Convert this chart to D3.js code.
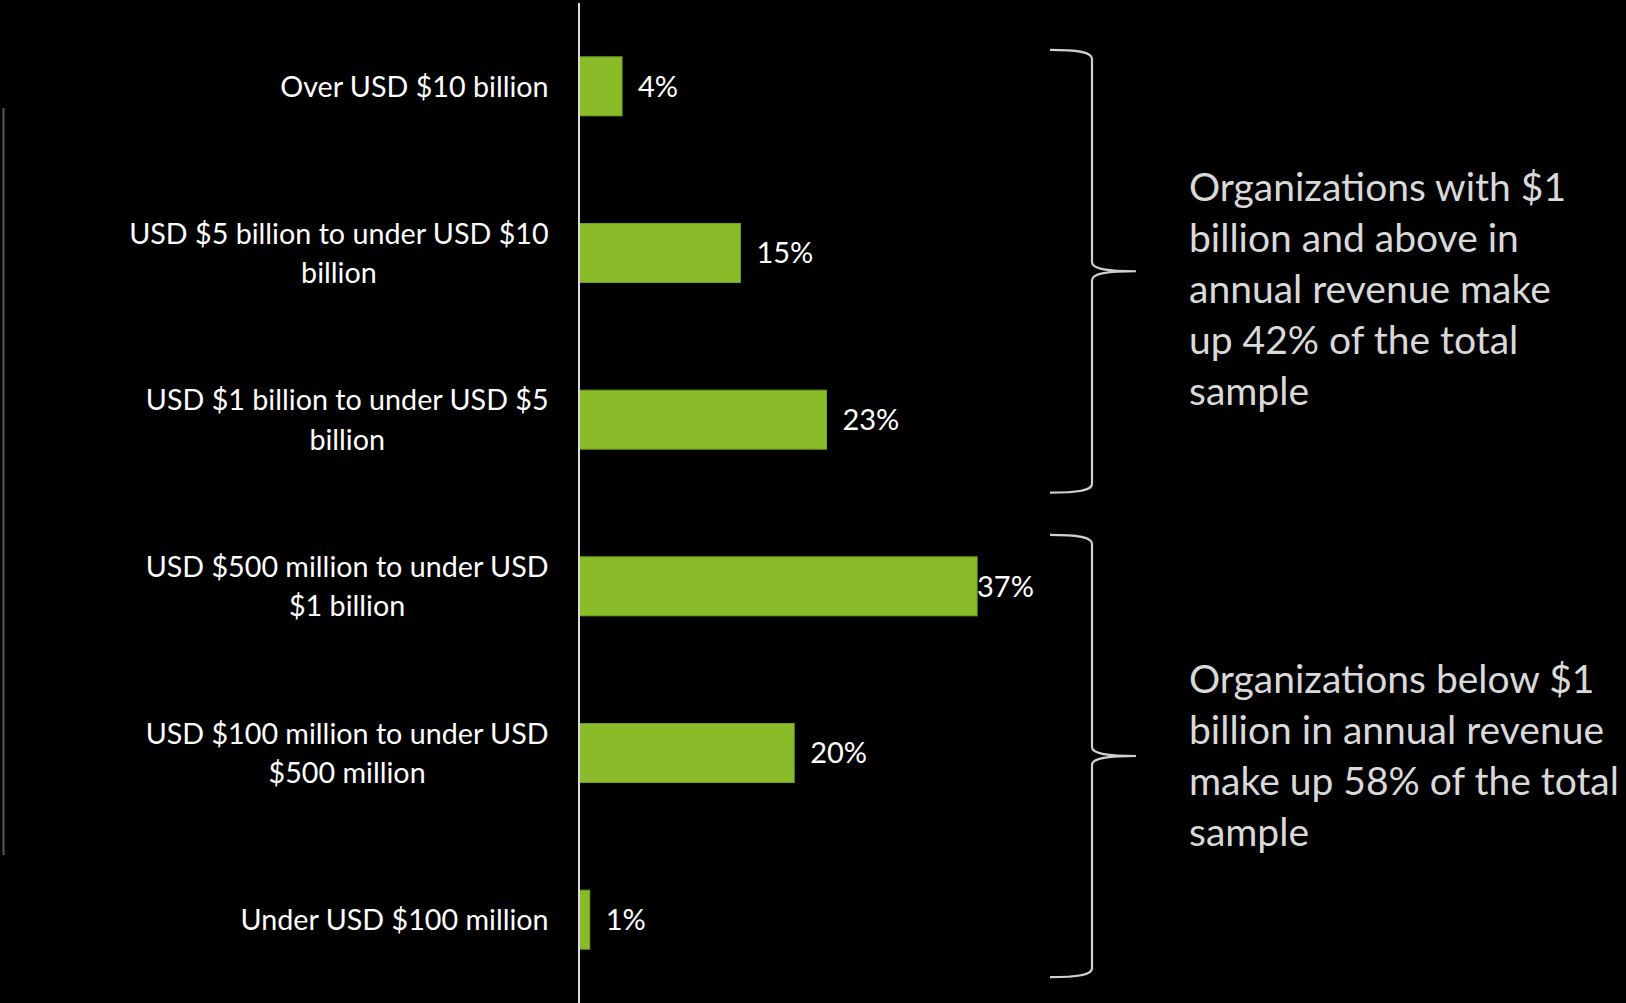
<!DOCTYPE html>
<html>
<head>
<meta charset="utf-8">
<script src="https://cdn.jsdelivr.net/npm/d3@7"></script>
<style>
  html, body { margin: 0; padding: 0; background: #000; }
  svg { display: block; }
  text { font-family: Lato, "Open Sans", sans-serif; }
</style>
</head>
<body>
<svg id="chart" width="1626" height="1003"></svg>
<script>
// Revenue bands (top to bottom) and share of respondents in each
const categories = [
  "Over USD $10 billion",
  "USD $5 billion to under USD $10 billion",
  "USD $1 billion to under USD $5 billion",
  "USD $500 million to under USD $1 billion",
  "USD $100 million to under USD $500 million",
  "Under USD $100 million"
];
// Line breaks used for the category labels
const categoryLines = [
  ["Over USD $10 billion"],
  ["USD $5 billion to under USD $10", "billion"],
  ["USD $1 billion to under USD $5", "billion"],
  ["USD $500 million to under USD", "$1 billion"],
  ["USD $100 million to under USD", "$500 million"],
  ["Under USD $100 million"]
];
const shares = [4, 15, 23, 37, 20, 1];

// Bracket groups: first and last category covered, plus caption lines
const groups = [
  { from: 0, to: 2, lines: ["Organizations with $1", "billion and above in", "annual revenue make", "up 42% of the total", "sample"] },
  { from: 3, to: 5, lines: ["Organizations below $1", "billion in annual revenue", "make up 58% of the total", "sample"] }
];
// how far each bracket reaches past the bars it covers (top, bottom)
const bracketReach = [[7, 43.5], [22, 28]];

const W = 1626, H = 1003;
const svg = d3.select("#chart");
svg.append("rect").attr("width", W).attr("height", H).attr("fill", "#000");

const x = d3.scaleLinear().domain([0, 100]).range([579, 1655]);
const y = d3.scaleBand().domain(categories).range([3, 1003]).paddingInner(0.646).paddingOuter(0.323);

// thin divider at far left
svg.append("line")
  .attr("x1", 3.5).attr("x2", 3.5).attr("y1", 108).attr("y2", 855)
  .attr("stroke", "#595959").attr("stroke-width", 2);

// bars
svg.append("g").selectAll("rect")
  .data(categories)
  .join("rect")
  .attr("x", x(0))
  .attr("y", d => y(d))
  .attr("width", (d, i) => x(shares[i]) - x(0))
  .attr("height", y.bandwidth())
  .attr("fill", "#8abb29")
  .attr("stroke", "#74a01f")
  .attr("stroke-width", 1);

// value axis baseline
svg.append("line")
  .attr("x1", x(0)).attr("x2", x(0)).attr("y1", 3).attr("y2", H)
  .attr("stroke", "#d9d9d9").attr("stroke-width", 2);

// value labels (kept inside the plot area on the right)
const labelMaxX = 977;
svg.append("g").selectAll("text")
  .data(categories)
  .join("text")
  .attr("x", (d, i) => Math.min(x(shares[i]) + 16, labelMaxX))
  .attr("y", d => y(d) + y.bandwidth() / 2)
  .attr("dy", "0.36em")
  .attr("fill", "#ffffff")
  .attr("font-size", 29)
  .text((d, i) => shares[i] + "%");

// category labels: centred lines, block right-aligned against the axis
const labelRight = 548.6;
const lineGap = 39.4;
const catG = svg.append("g");
categories.forEach((c, i) => {
  const lines = categoryLines[i];
  const t = catG.append("text")
    .attr("fill", "#ffffff")
    .attr("font-size", 28.7)
    .attr("text-anchor", "middle");
  const cy = y(c) + y.bandwidth() / 2;
  lines.forEach((ln, j) => {
    t.append("tspan")
      .attr("y", cy + (j - (lines.length - 1) / 2) * lineGap)
      .attr("dy", "0.36em")
      .text(ln);
  });
  let maxW = 0;
  t.selectAll("tspan").each(function () { maxW = Math.max(maxW, this.getComputedTextLength()); });
  t.selectAll("tspan").attr("x", labelRight - maxW / 2);
});

// curly brackets and captions
const spineX = 1092, endX = 1050, tipX = 1136;
const capG = svg.append("g");
groups.forEach((g, k) => {
  const top = y(categories[g.from]) - bracketReach[k][0];
  const bottom = y(categories[g.to]) + y.bandwidth() + bracketReach[k][1];
  const mid = (top + bottom) / 2;
  const p = d3.path();
  p.moveTo(endX, top);
  p.bezierCurveTo(endX + 28, top, spineX, top + 2, spineX, top + 9);
  p.lineTo(spineX, mid - 9);
  p.bezierCurveTo(spineX, mid - 2, spineX + 16, mid, tipX, mid);
  p.bezierCurveTo(spineX + 16, mid, spineX, mid + 2, spineX, mid + 9);
  p.lineTo(spineX, bottom - 9);
  p.bezierCurveTo(spineX, bottom - 2, endX + 28, bottom, endX, bottom);
  capG.append("path")
    .attr("d", p.toString())
    .attr("fill", "none")
    .attr("stroke", "#d0d0d0")
    .attr("stroke-width", 2.2);
});

const captionBase = [201, 693];
const captionGap = 51;
groups.forEach((g, k) => {
  const t = capG.append("text")
    .attr("fill", "#d9d9d9")
    .attr("font-size", 39);
  g.lines.forEach((ln, j) => {
    t.append("tspan")
      .attr("x", 1189)
      .attr("y", captionBase[k] + j * captionGap)
      .text(ln);
  });
});
</script>
</body>
</html>
